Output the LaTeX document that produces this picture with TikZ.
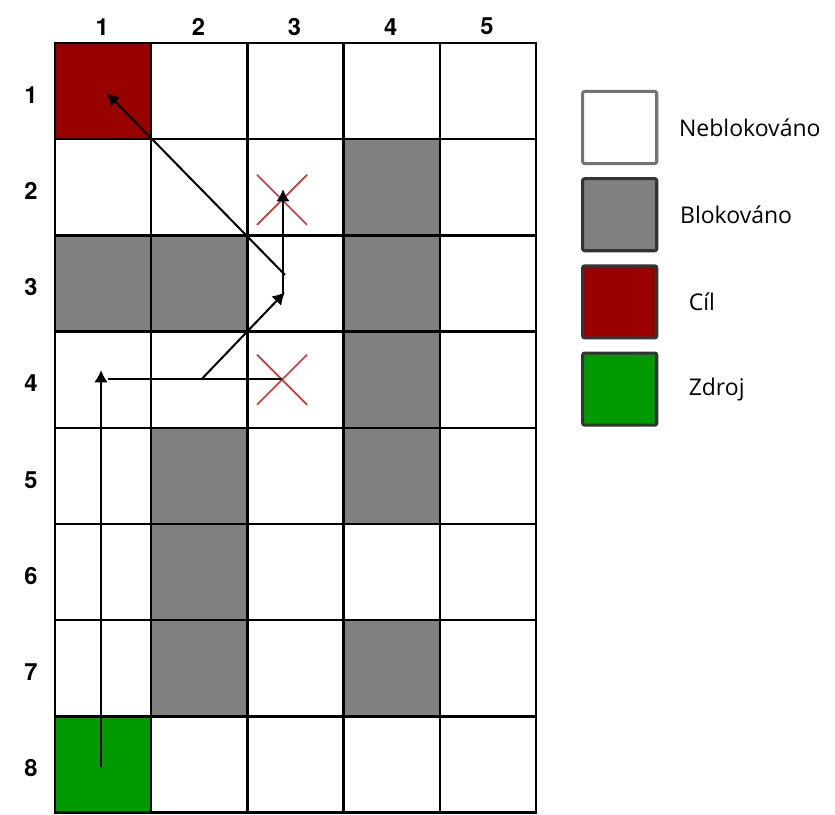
\documentclass[tikz,border=0pt]{standalone}
\usepackage{fontspec}
\setmainfont{Open Sans}
\newfontfamily\headfont{TeX Gyre Heros}
\usetikzlibrary{arrows.meta,positioning}

\definecolor{cilred}{HTML}{990000}
\definecolor{zdrojgreen}{HTML}{009900}
\definecolor{blokgray}{HTML}{808080}
\definecolor{crossred}{HTML}{CC3838}

\begin{document}
\begin{tikzpicture}[
        x=1cm, y=-1cm,
        cell/.style={draw, line width=0.75pt, minimum size=1cm, inner sep=0pt, outer sep=0pt},
        free/.style={fill=white},
        blok/.style={fill=blokgray},
        cil/.style={fill=cilred},
        zdroj/.style={fill=zdrojgreen},
        head/.style={font=\headfont\bfseries\fontsize{7}{8}\selectfont, inner sep=0pt},
        path/.style={line width=0.6pt, -{Latex[length=3.6pt,width=4pt]}},
        cross/.style={draw=crossred, line width=0.5pt},
        legbox/.style={draw=black!80, line width=0.9pt, rounded corners=0.6pt, minimum width=0.77cm, minimum height=0.75cm, inner sep=0pt},
        legtext/.style={font=\fontsize{6.8}{8}\selectfont, inner sep=0pt}
    ]
    \useasboundingbox (-0.572,-0.447) rectangle (8.108,8.015);

    % grid, one row per line
    \foreach \r/\row in {1/{cil,free,free,free,free},
                         2/{free,free,free,blok,free},
                         3/{blok,blok,free,blok,free},
                         4/{free,free,free,blok,free},
                         5/{free,blok,free,blok,free},
                         6/{free,blok,free,free,free},
                         7/{free,blok,free,blok,free},
                         8/{zdroj,free,free,free,free}} {
        \foreach \k [count=\c] in \row {
            \node[cell, \k] (c\c\r) at (\c-0.5,\r-0.5) {};
        }
        \node[head] (row\r) at (-0.25,\r-0.46) {\r};
    }
    \foreach \c in {1,...,5}
        \node[head] (col\c) at (\c-0.51,-0.17) {\c};

    % crosses
    \draw[cross] (2.1,1.37) -- (2.62,1.89) (2.1,1.89) -- (2.62,1.37);
    \draw[cross] (2.1,3.24) -- (2.62,3.76) (2.1,3.76) -- (2.62,3.24);

    % search path
    \coordinate (start) at (0.478,7.53);
    \coordinate (up) at (0.478,3.40);
    \coordinate (left) at (0.551,3.49);
    \coordinate (block) at (2.36,3.49);
    \coordinate (fork) at (1.528,3.49);
    \coordinate (mid) at (2.39,2.59);
    \coordinate (top) at (2.37,1.52);
    \coordinate (back) at (2.39,2.41);
    \coordinate (goal) at (0.54,0.52);

    \draw[path] (start) -- (up);
    \draw[line width=0.6pt] (left) -- (block);
    \draw[path] (fork) -- (mid);
    \draw[path] (2.37,2.62) -- (top);
    \draw[path] (back) -- (goal);

    % legend
    \node[legbox, draw=black!55, fill=white] (leg1) at (5.87,0.878) {};
    \node[legbox, fill=blokgray, below=0.125cm of leg1] (leg2) {};
    \node[legbox, fill=cilred, below=0.125cm of leg2] (leg3) {};
    \node[legbox, fill=zdrojgreen, below=0.125cm of leg3] (leg4) {};

    \node[legtext, right=0.21cm of leg1] (t1) {Neblokováno};
    \node[legtext, right=0.22cm of leg2] (t2) {Blokováno};
    \node[legtext, right=0.31cm of leg3] (t3) {Cíl};
    \node[legtext, right=0.31cm of leg4] (t4) {Zdroj};
\end{tikzpicture}
\end{document}
